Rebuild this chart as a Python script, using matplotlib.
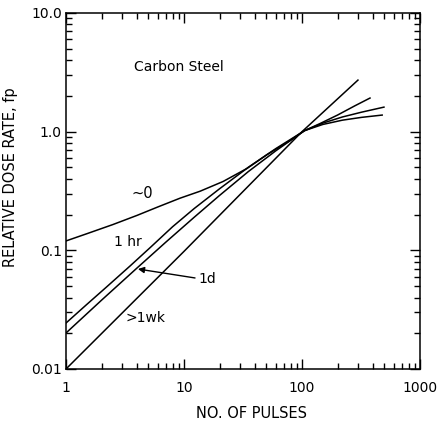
import matplotlib
matplotlib.use("Agg")
import matplotlib.pyplot as plt
from matplotlib.ticker import LogLocator, FixedLocator, NullFormatter

# ---- data ----
x_zero = [1, 1.5, 2.5, 4, 6, 9.25, 13.7, 21.4, 34.2, 50.5, 79, 105, 150, 220, 320, 478]
y_zero = [0.12, 0.138, 0.165, 0.197, 0.232, 0.275, 0.315, 0.38, 0.49, 0.64, 0.84, 1.02, 1.15, 1.25, 1.32, 1.38]

x_1hr = [1, 1.5, 2.2, 3.5, 5.25, 8, 12.2, 20, 35, 60, 105, 150, 220, 320, 495]
y_1hr = [0.0244, 0.035, 0.049, 0.074, 0.107, 0.158, 0.225, 0.33, 0.50, 0.72, 1.02, 1.18, 1.33, 1.46, 1.61]

x_1d = [1, 2, 4, 7, 12.2, 20, 35, 60, 105, 142, 200, 280, 377]
y_1d = [0.0201, 0.038, 0.071, 0.117, 0.19, 0.29, 0.46, 0.69, 1.02, 1.17, 1.38, 1.65, 1.92]

x_1wk = [1, 10, 100, 298]
y_1wk = [0.01, 0.098, 1.0, 2.72]

xticks = [1, 10, 100, 1000]
xticklabels = ["1", "10", "100", "1000"]
yticks = [0.01, 0.1, 1.0, 10.0]
yticklabels = ["0.01", "0.1", "1.0", "10.0"]

fig = plt.figure(figsize=(4.44, 4.22), dpi=100)
ax = fig.add_axes([66/444, 1-369/422, (420-66)/444, (369-13)/422])

lw = 1.1
for xs, ys in [(x_zero, y_zero), (x_1hr, y_1hr), (x_1d, y_1d), (x_1wk, y_1wk)]:
    ax.plot(xs, ys, color="black", lw=lw, solid_joinstyle="round")

ax.set_xscale("log")
ax.set_yscale("log")
ax.set_xlim(1, 1000)
ax.set_ylim(0.01, 10)

ax.xaxis.set_major_locator(FixedLocator(xticks))
ax.set_xticklabels(xticklabels)
ax.yaxis.set_major_locator(FixedLocator(yticks))
ax.set_yticklabels(yticklabels)
ax.xaxis.set_minor_locator(LogLocator(base=10, subs=range(2, 10)))
ax.yaxis.set_minor_locator(LogLocator(base=10, subs=range(2, 10)))
ax.xaxis.set_minor_formatter(NullFormatter())
ax.yaxis.set_minor_formatter(NullFormatter())

ax.tick_params(which="both", direction="in", top=True, right=True, width=1.0, color="black")
ax.tick_params(which="major", length=7, labelsize=10)
ax.tick_params(which="minor", length=4)
ax.tick_params(axis="x", which="major", pad=9)
ax.tick_params(axis="y", which="major", pad=3)
for s in ax.spines.values():
    s.set_linewidth(1.1)

ax.set_xlabel("NO. OF PULSES", fontsize=10.5, labelpad=4)
ax.set_ylabel("RELATIVE DOSE RATE, fp", fontsize=10.5, labelpad=6)
ax.yaxis.set_label_coords(-0.135, 0.54)
ax.xaxis.set_label_coords(0.525, -0.105)

ax.text(9.07, 3.5, "Carbon Steel", fontsize=10, ha="center", va="center")
ax.text(4.4, 0.30, "~0", fontsize=10.5, ha="center", va="center")
ax.text(3.35, 0.117, "1 hr", fontsize=10, ha="center", va="center")
ax.text(4.76, 0.0269, ">1wk", fontsize=10, ha="center", va="center")
ax.text(13.2, 0.057, "1d", fontsize=10, ha="left", va="center")
ax.annotate("", xy=(4.07, 0.0696), xytext=(12.4, 0.0585),
            arrowprops=dict(arrowstyle="-|>", color="black", lw=1.0,
                            mutation_scale=9, shrinkA=0, shrinkB=0))

fig.savefig("out.png", dpi=100)
